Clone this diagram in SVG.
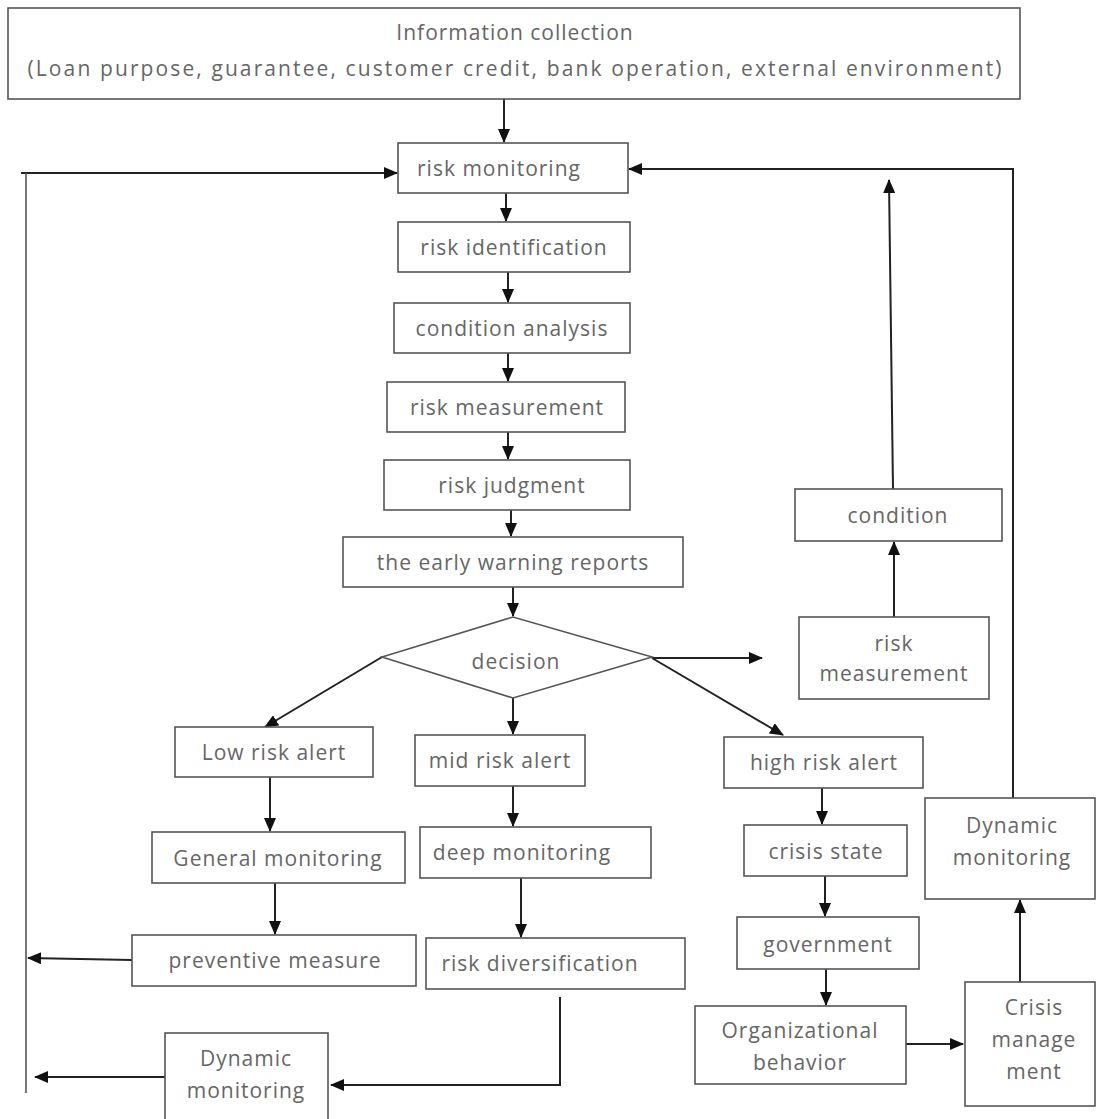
<svg xmlns="http://www.w3.org/2000/svg" width="1097" height="1119" viewBox="0 0 1097 1119">
<style>
.box{fill:#fff;stroke:#555;stroke-width:1.6}
.t{font-family:"Open Sans","Liberation Sans",sans-serif;font-size:21px;letter-spacing:1px;fill:#666;text-anchor:middle;dominant-baseline:central}
.c{fill:none;stroke:#222;stroke-width:2}
.cl{fill:none;stroke:#555;stroke-width:1.6}
</style>
<defs>
<marker id="ah" markerUnits="userSpaceOnUse" markerWidth="14" markerHeight="12" refX="13" refY="6" orient="auto">
<path d="M0,0 L14,6 L0,12 Z" fill="#111"/>
</marker>
</defs>
<rect width="1097" height="1119" fill="#fff"/>

<g id="connectors">
<path class="c" d="M504,99 V142" marker-end="url(#ah)"/>
<path class="c" d="M21,173 H397" marker-end="url(#ah)"/>
<path class="cl" d="M26,173 V1093"/>
<path class="c" d="M1013,798 V169 H629" marker-end="url(#ah)"/>
<path class="c" d="M893,489 L889,180" marker-end="url(#ah)"/>
<path class="c" d="M506,193 V221" marker-end="url(#ah)"/>
<path class="c" d="M508,272 V302" marker-end="url(#ah)"/>
<path class="c" d="M508,353 V381" marker-end="url(#ah)"/>
<path class="c" d="M508,432 V459" marker-end="url(#ah)"/>
<path class="c" d="M511,510 V536" marker-end="url(#ah)"/>
<path class="c" d="M513,587 V616" marker-end="url(#ah)"/>
<path class="c" d="M382,657 L265,727" marker-end="url(#ah)"/>
<path class="c" d="M513,698 V734" marker-end="url(#ah)"/>
<path class="c" d="M652,658 L783,735" marker-end="url(#ah)"/>
<path class="c" d="M652,658 H762" marker-end="url(#ah)"/>
<path class="c" d="M894,617 V542" marker-end="url(#ah)"/>
<path class="c" d="M270,777 V831" marker-end="url(#ah)"/>
<path class="c" d="M275,883 V934" marker-end="url(#ah)"/>
<path class="c" d="M132,960 L28,958" marker-end="url(#ah)"/>
<path class="c" d="M513,786 V826" marker-end="url(#ah)"/>
<path class="c" d="M521,878 V937" marker-end="url(#ah)"/>
<path class="c" d="M560,997 V1085 H331" marker-end="url(#ah)"/>
<path class="c" d="M165,1077 H35" marker-end="url(#ah)"/>
<path class="c" d="M822,788 V824" marker-end="url(#ah)"/>
<path class="c" d="M825,876 V916" marker-end="url(#ah)"/>
<path class="c" d="M826,969 V1005" marker-end="url(#ah)"/>
<path class="c" d="M906,1044 H963" marker-end="url(#ah)"/>
<path class="c" d="M1020,982 V900" marker-end="url(#ah)"/>
</g>

<g id="info"><rect class="box" x="8" y="8" width="1012" height="91"/>
<text class="t" x="515" y="32">Information collection</text>
<text class="t" x="515" y="68" textLength="975" lengthAdjust="spacing">(Loan purpose, guarantee, customer credit, bank operation, external environment)</text></g>
<g id="risk-monitoring"><rect class="box" x="398" y="143" width="230" height="50"/><text class="t" x="499" y="168">risk monitoring</text></g>
<g id="risk-identification"><rect class="box" x="398" y="222" width="232" height="50"/><text class="t" x="514" y="247">risk identification</text></g>
<g id="condition-analysis"><rect class="box" x="394" y="303" width="236" height="50"/><text class="t" x="512" y="328">condition analysis</text></g>
<g id="risk-measurement"><rect class="box" x="387" y="382" width="238" height="50"/><text class="t" x="507" y="407">risk measurement</text></g>
<g id="risk-judgment"><rect class="box" x="384" y="460" width="246" height="50"/><text class="t" x="512" y="485">risk judgment</text></g>
<g id="early-warning"><rect class="box" x="343" y="537" width="340" height="50"/><text class="t" x="513" y="562">the early warning reports</text></g>
<g id="decision"><polygon class="box" points="382,657 513,617 652,657 513,698"/><text class="t" x="516" y="661">decision</text></g>
<g id="low-risk"><rect class="box" x="175" y="727" width="198" height="50"/><text class="t" x="274" y="752">Low risk alert</text></g>
<g id="mid-risk"><rect class="box" x="415" y="735" width="170" height="51"/><text class="t" x="500" y="760">mid risk alert</text></g>
<g id="high-risk"><rect class="box" x="724" y="737" width="199" height="51"/><text class="t" x="824" y="762">high risk alert</text></g>
<g id="risk-measurement-r"><rect class="box" x="799" y="617" width="190" height="82"/><text class="t" x="894" y="643">risk</text><text class="t" x="894" y="673">measurement</text></g>
<g id="condition"><rect class="box" x="795" y="489" width="207" height="52"/><text class="t" x="898" y="515">condition</text></g>
<g id="general-monitoring"><rect class="box" x="152" y="832" width="253" height="51"/><text class="t" x="278" y="858">General monitoring</text></g>
<g id="preventive-measure"><rect class="box" x="132" y="935" width="284" height="51"/><text class="t" x="275" y="960">preventive measure</text></g>
<g id="deep-monitoring"><rect class="box" x="420" y="827" width="231" height="51"/><text class="t" x="522" y="852">deep monitoring</text></g>
<g id="risk-diversification"><rect class="box" x="426" y="938" width="259" height="51"/><text class="t" x="540" y="963">risk diversification</text></g>
<g id="dynamic-monitoring-l"><rect class="box" x="165" y="1033" width="163" height="95"/><text class="t" x="246" y="1058">Dynamic</text><text class="t" x="246" y="1090">monitoring</text></g>
<g id="crisis-state"><rect class="box" x="744" y="825" width="163" height="51"/><text class="t" x="826" y="851">crisis state</text></g>
<g id="government"><rect class="box" x="737" y="917" width="182" height="52"/><text class="t" x="828" y="944">government</text></g>
<g id="organizational"><rect class="box" x="695" y="1006" width="211" height="78"/><text class="t" x="800" y="1030">Organizational</text><text class="t" x="800" y="1062">behavior</text></g>
<g id="dynamic-monitoring-r"><rect class="box" x="925" y="798" width="170" height="101"/><text class="t" x="1012" y="825">Dynamic</text><text class="t" x="1012" y="857">monitoring</text></g>
<g id="crisis-management"><rect class="box" x="965" y="982" width="130" height="124"/><text class="t" x="1034" y="1007">Crisis</text><text class="t" x="1034" y="1039">manage</text><text class="t" x="1034" y="1071">ment</text></g>
</svg>
